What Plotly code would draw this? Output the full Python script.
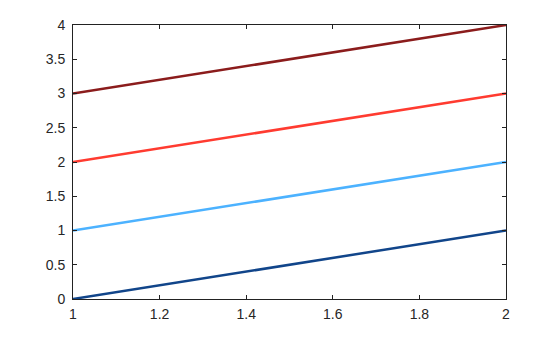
import plotly.graph_objects as go

x_vals = [1, 2]
series = {
    "s1": [0, 1],
    "s2": [1, 2],
    "s3": [2, 3],
    "s4": [3, 4],
}
colors = ["#11458a", "#4cb2ff", "#ff3b30", "#8b1c1c"]

fig = go.Figure()
for (name, ys), c in zip(series.items(), colors):
    fig.add_trace(go.Scatter(x=x_vals, y=ys, mode="lines", name=name,
                             line=dict(color=c, width=2.5)))

axis_common = dict(showgrid=False, zeroline=False, showline=True, linecolor="#222",
                   linewidth=1, mirror="ticks", ticks="inside", ticklen=4,
                   tickcolor="#222", tickfont=dict(family="Liberation Sans, Arial", size=14, color="#262626"))
fig.update_xaxes(range=[1, 2], dtick=0.2, ticklabelstandoff=2, **axis_common)
fig.update_yaxes(range=[0, 4], dtick=0.5, ticklabelstandoff=4, **axis_common)
fig.update_layout(width=560, height=337, margin=dict(l=73, r=54, t=25, b=38),
                  showlegend=False, plot_bgcolor="white", paper_bgcolor="white")
fig.write_html("out.html")
